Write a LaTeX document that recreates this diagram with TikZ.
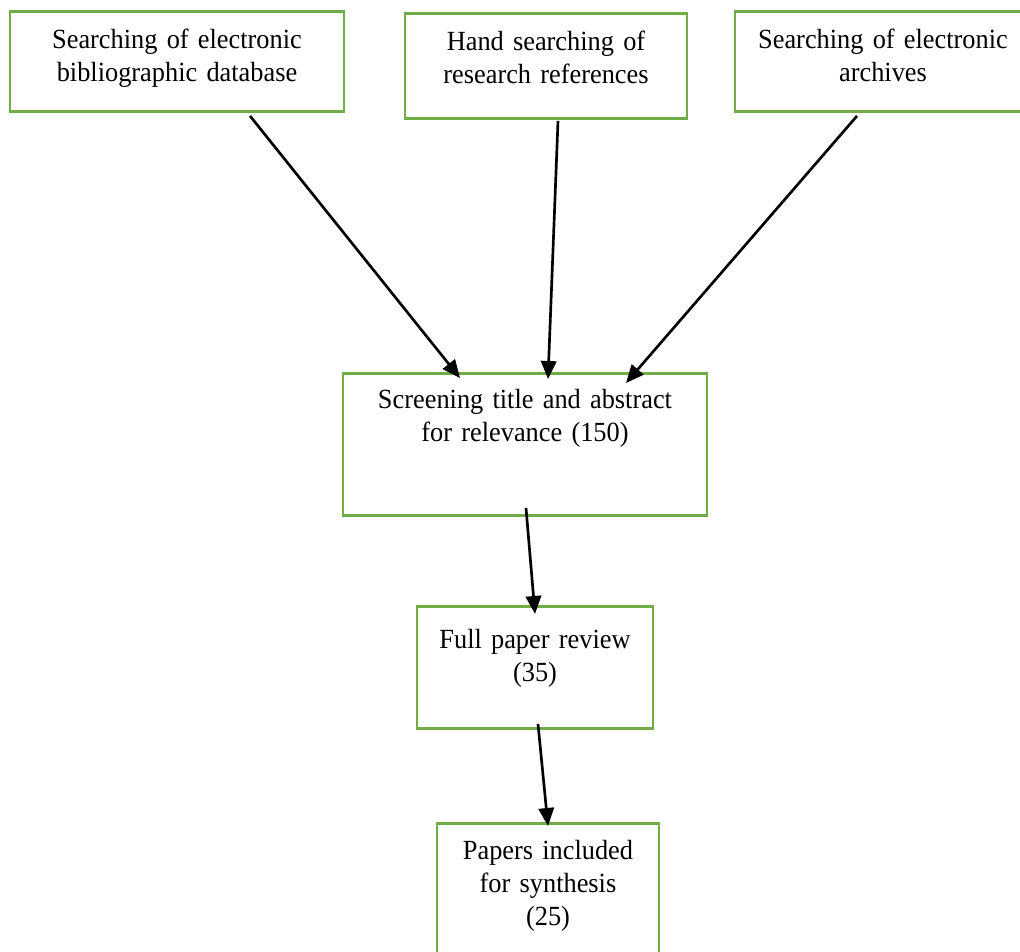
\documentclass[tikz,border=0pt]{standalone}
\usepackage{fontspec}
\setmainfont[FakeStretch=0.95,WordSpace=0.8]{Liberation Serif}
\usepackage{tikz}
\usepackage{xcolor}
\usetikzlibrary{arrows.meta,calc}
\definecolor{boxgreen}{RGB}{112,173,71}

\begin{document}
\begin{tikzpicture}[x=0.75pt, y=-0.75pt,
    stage/.style={draw=boxgreen, line width=2.2pt, anchor=north, align=center,
        inner sep=4pt, text height=23.75pt, font=\fontsize{20.8}{24.75}\selectfont},
    flow/.style={-{Triangle[length=13.5pt,width=11.5pt]}, line width=2pt}]
            \useasboundingbox (0,0) rectangle (1020,952);

            % Sources
            \node[stage, text width=242.5pt, text depth=43.25pt] (bibdb) at (177,10) {Searching of electronic\\bibliographic database};
            \node[stage, text width=203.5pt, text depth=47pt] (handsearch) at (546,12) {Hand searching of\\research references};
            \node[stage, text width=214pt, text depth=43.25pt] (archives) at (883,10) {Searching of electronic\\archives};

            % Screening
            \node[stage, text width=265pt, text height=22.25pt, text depth=76.25pt] (screening) at (525,372) {Screening title and abstract\\for relevance (150)};

            % Review
            \node[stage, text width=169pt, text height=27.5pt, text depth=56pt] (fullpaper) at (535,605) {Full paper review\\(35)};

            % Included
            \node[stage, text width=158.5pt, text height=23pt, text depth=74pt] (included) at (548,822) {Papers included\\for synthesis\\(25)};

            % Arrows
            \draw[flow] ($(bibdb.south)+(73,3)$) -- ($(screening.north)+(-65,6)$);
            \draw[flow] ($(handsearch.south)+(12,1)$) -- ($(screening.north)+(23,7)$);
            \draw[flow] ($(archives.south)+(-26,3)$) -- ($(screening.north)+(101,11)$);
            \draw[flow] ($(screening.south)+(1,-9)$) -- ($(fullpaper.north)+(0,9)$);
            \draw[flow] ($(fullpaper.south)+(3,-6)$) -- ($(included.north)+(0,4)$);
        \end{tikzpicture}
\end{document}
